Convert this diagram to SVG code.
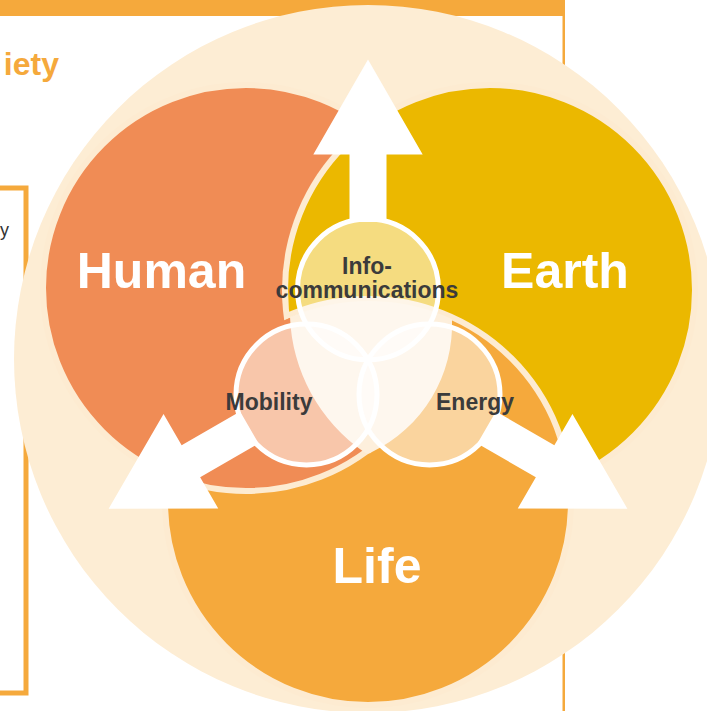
<svg xmlns="http://www.w3.org/2000/svg" width="707" height="711" viewBox="0 0 707 711">
<style>
.frame{fill:#F5A93C}
.big{stroke:#FDEBD1;stroke-width:6}
.small{fill:#FFFFFF;fill-opacity:0.5;stroke:#FFFFFF;stroke-width:5}
.lbl{font-family:"Liberation Sans",Arial,sans-serif;font-weight:bold;fill:#3B3B3B;font-size:23px;text-anchor:middle}
.big-lbl{font-family:"Liberation Sans",Arial,sans-serif;font-weight:bold;fill:#FFFFFF;font-size:50px;text-anchor:middle}
.arrow{fill:#FFFFFF}
</style>
<defs>
<mask id="humanMask" maskUnits="userSpaceOnUse" x="0" y="0" width="707" height="711">
<rect x="0" y="0" width="707" height="711" fill="#FFFFFF"/>
<circle cx="490" cy="290" r="208" fill="#000000"/>
<circle cx="368" cy="502" r="200" fill="#FFFFFF"/>
</mask>
<path id="arrowUp" d="M368,59.5 L422.7,154.5 L386.5,154.5 L386.5,222 L349.5,222 L349.5,154.5 L313.3,154.5 Z"/>
</defs>
<rect x="0" y="0" width="707" height="711" fill="#FFFFFF"/>
<g id="background">
<rect class="frame" x="0" y="0" width="565" height="16"/>
<rect x="562.5" y="0" width="2.5" height="711" class="frame"/>
<rect x="-20" y="188" width="46" height="505" fill="#FFFFFF" stroke="#F5A93C" stroke-width="5"/>
<text x="59" y="75" font-family="Liberation Sans,Arial,sans-serif" font-weight="bold" font-size="32" fill="#F5A93C" text-anchor="end">iety</text>
<text x="0" y="236" font-family="Liberation Sans,Arial,sans-serif" font-size="18" fill="#333333">y</text>
<circle cx="368" cy="359" r="354" fill="#FDEDD4"/>
</g>
<g id="earth">
<circle class="big" cx="490" cy="290" r="205" fill="#EBB800"/>
</g>
<g id="life">
<circle class="big" cx="368" cy="502" r="203" fill="#F5A93C"/>
</g>
<g id="human">
<circle class="big" cx="246" cy="288" r="203" fill="#F08C55" mask="url(#humanMask)"/>
</g>
<g id="core">
<path d="M290,317 A201,201 0 0,1 452,319 A142,142 0 0,1 372,452 Q368,455 364,452 A172,172 0 0,1 290,317 Z" fill="#FDEFDC"/>
</g>
<g id="connectors">
<use href="#arrowUp" class="arrow"/>
<use href="#arrowUp" class="arrow" transform="rotate(-120 368 359)"/>
<use href="#arrowUp" class="arrow" transform="rotate(120 368 359)"/>
</g>
<g id="info"><circle class="small" cx="368" cy="289.5" r="70.5"/>
<text class="lbl" x="367" y="274">Info-</text>
<text class="lbl" x="367" y="298">communications</text></g>
<g id="mobility"><circle class="small" cx="306.5" cy="394.5" r="70.5"/>
<text class="lbl" x="269" y="410">Mobility</text></g>
<g id="energy"><circle class="small" cx="429.5" cy="394.5" r="70.5"/>
<text class="lbl" x="475" y="410">Energy</text></g>
<g id="labels">
<text class="big-lbl" x="161.5" y="288">Human</text>
<text class="big-lbl" x="565" y="288">Earth</text>
<text class="big-lbl" x="377" y="583">Life</text>
</g>
</svg>
